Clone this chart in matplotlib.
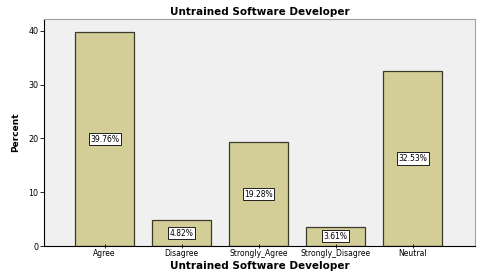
import numpy as np
import matplotlib.pyplot as plt

categories = ["Agree", "Disagree", "Strongly_Agree", "Strongly_Disagree", "Neutral"]
percent = [39.76, 4.82, 19.28, 3.61, 32.53]
labels = ["39.76%", "4.82%", "19.28%", "3.61%", "32.53%"]

fig = plt.figure(figsize=(4.8, 2.78), dpi=100)
ax = fig.add_axes([0.0917, 0.1151, 0.8979, 0.8166])
ax.set_facecolor("#F0F0F0")

x = np.arange(len(categories))
ax.bar(x, percent, width=0.766, color="#D3CE98", edgecolor="#3a3a2a", linewidth=0.9)

for xi, v, lab in zip(x, percent, labels):
    ax.text(xi, v / 2, lab, ha="center", va="center", fontsize=5.5,
            bbox=dict(boxstyle="square,pad=0.2", fc="white", ec="black", lw=0.6))

ax.set_xlim(-0.786, 4.81)
ax.set_ylim(0, 42.2)
ax.set_yticks([0, 10, 20, 30, 40])
ax.set_xticks(x)
ax.set_xticklabels(categories, fontsize=5.5)
ax.tick_params(axis="y", labelsize=5.8, length=3, width=0.6, pad=1)
ax.tick_params(axis="x", length=3, width=0.6, pad=1, direction="inout")

for s in ["top", "right"]:
    ax.spines[s].set_color("#a0a0a0")
    ax.spines[s].set_linewidth(0.8)
ax.spines["left"].set_linewidth(0.8)
ax.spines["bottom"].set_linewidth(0.8)

ax.set_xlabel("Untrained Software Developer", fontsize=7.5, fontweight="bold", labelpad=2)
ax.set_ylabel("Percent", fontsize=6.5, fontweight="bold", labelpad=6)
ax.set_title("Untrained Software Developer", fontsize=7.5, fontweight="bold", pad=3)

fig.savefig("out.png", dpi=100)
